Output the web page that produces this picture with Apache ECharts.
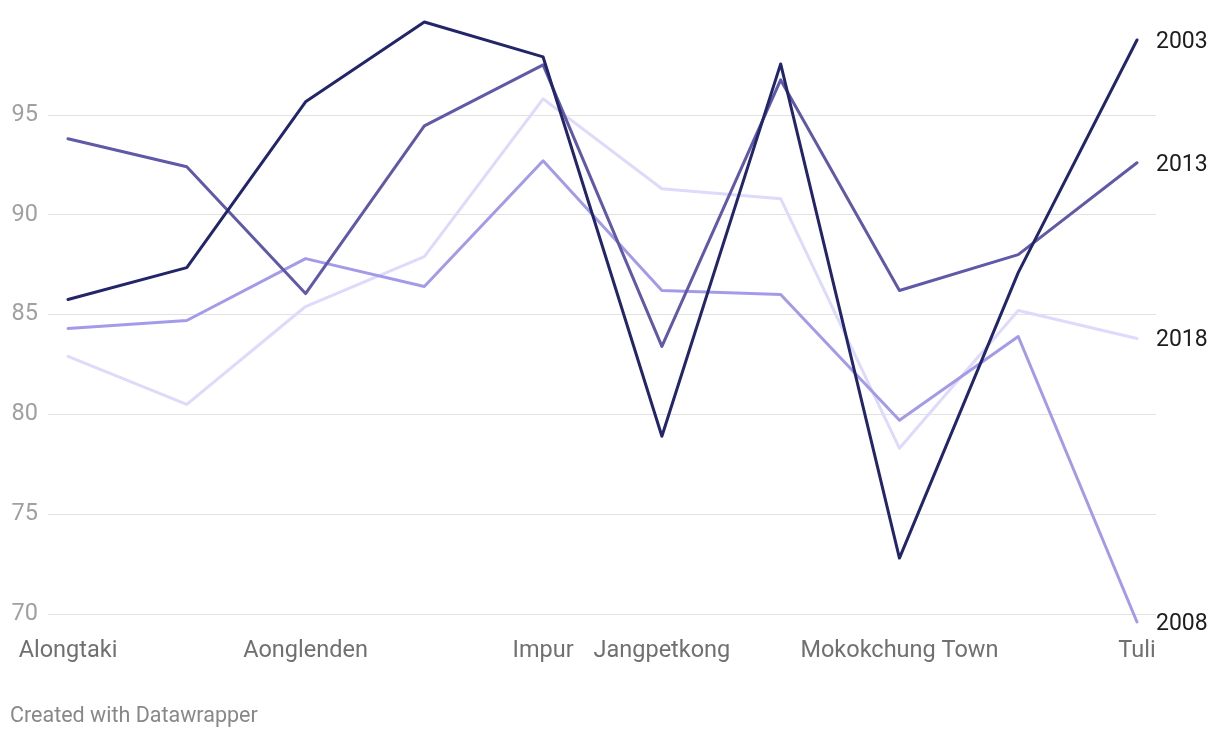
<!DOCTYPE html>
<html>
<head>
<meta charset="utf-8">
<script src="https://cdn.jsdelivr.net/npm/echarts@6/dist/echarts.min.js"></script>
<style>
html,body{margin:0;padding:0;background:#fff;}
#c{width:1220px;height:738px;}
</style>
</head>
<body>
<div id="c"></div>
<script>
const categories = ['Alongtaki','Alongkima','Aonglenden','Changtongya','Impur','Jangpetkong','Longkhum','Mokokchung Town','Ongpangkong','Tuli'];
const shownLabels = [0,2,4,5,7,9];
const yTicks = [70,75,80,85,90,95];
const s2003 = [85.75, 87.35, 95.65, 99.65, 97.9, 78.9, 97.55, 72.8, 87.1, 98.75];
const s2013 = [93.8, 92.4, 86.05, 94.45, 97.5, 83.4, 96.75, 86.2, 88.0, 92.6];
const s2008 = [84.3, 84.7, 87.8, 86.4, 92.7, 86.2, 86.0, 79.7, 83.9, 69.6];
const s2018 = [82.9, 80.5, 85.4, 87.9, 95.8, 91.3, 90.8, 78.3, 85.2, 83.8];

const chart = echarts.init(document.getElementById('c'));
function mkSeries(name, data, color, z){
  return {
    name, type:'line', data, xAxisIndex:1, yAxisIndex:1, z,
    symbol:'none', smooth:false, clip:false,
    lineStyle:{color, width:3, cap:'round', join:'round'},
    itemStyle:{color},
    endLabel:{show:true, formatter:name, color:'#1d1d1d', fontSize:23, fontFamily:'Roboto', distance:19, offset:[0,2]},
    emphasis:{disabled:true},
    animation:false
  };
}
chart.setOption({
  animation:false,
  grid:[
    {left:48, right:64, top:15, height:599},
    {left:68, right:83, top:15, height:599}
  ],
  xAxis:[
    {type:'value', gridIndex:0, show:false, min:0, max:1},
    {type:'category', gridIndex:1, data:categories, boundaryGap:false,
     axisLine:{show:false}, axisTick:{show:false},
     axisLabel:{interval:(i)=>shownLabels.includes(i), color:'#707070', fontSize:23.5, fontFamily:'Roboto', margin:25}}
  ],
  yAxis:[
    {type:'value', gridIndex:0, min:70, max:100, interval:5,
     axisLine:{show:false}, axisTick:{show:false},
     axisLabel:{color:'#a0a0a0', fontSize:23.5, fontFamily:'Roboto', margin:10, showMaxLabel:false,
       formatter:(v)=>yTicks.includes(v)?String(v):''},
     splitLine:{show:true, showMaxLine:false, lineStyle:{color:'#e2e2e2', width:1}}},
    {type:'value', gridIndex:1, min:70, max:100, show:false, splitLine:{show:false}}
  ],
  series:[
    mkSeries('2018', s2018, '#dedafc', 1),
    mkSeries('2008', s2008, '#a39be9', 2),
    mkSeries('2013', s2013, '#5f59a7', 3),
    mkSeries('2003', s2003, '#23256b', 4)
  ],
  graphic:[
    {type:'text', left:10, top:706, style:{text:'Created with Datawrapper', fill:'#888', fontSize:21.5, fontFamily:'Roboto'}}
  ]
});
</script>
</body>
</html>
